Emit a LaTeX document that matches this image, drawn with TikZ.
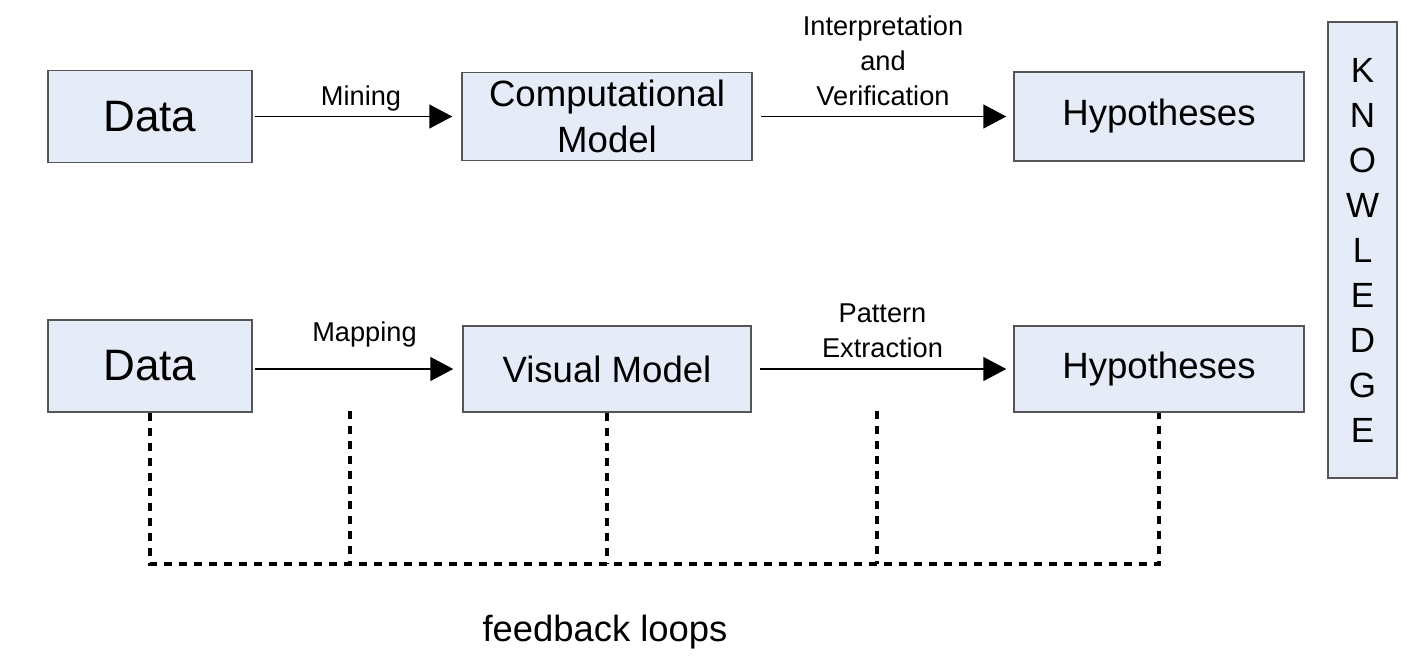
\documentclass[tikz,border=0pt]{standalone}
\usepackage{fontspec}
\setmainfont{Liberation Sans}
\usetikzlibrary{arrows.meta}
\tikzset{
    box/.style={draw=boxline, fill=boxfill, line width=0.75pt, inner sep=0pt, align=center},
    boxfont/.style={font=\fontsize{18.3}{23}\selectfont},
    flow/.style={line width=0.75pt, -{Triangle[length=11.5pt,width=12pt]}},
    flowlabel/.style={font=\fontsize{13.6}{17.5}\selectfont, align=center, inner sep=0pt,
        text depth=0pt, above=5.25pt},
    feedback/.style={line width=2.4pt, dash pattern=on 4pt off 3.5pt}
}

\begin{document}
\begin{tikzpicture}[x=0.5pt,y=-0.5pt]
  % Colors
    \definecolor{boxfill}{RGB}{230,236,247}
    \definecolor{boxline}{RGB}{85,85,85}

  % Frame
    \useasboundingbox (0,0) rectangle (1428,660);

  % The graphic
  % top row
    \node[box, minimum width=102pt, minimum height=46pt, font=\fontsize{22}{26}\selectfont]
      (data1) at (150,116.5) {Data};
    \node[box, boxfont, minimum width=145pt, minimum height=44pt]
      (comp) at (607,116.5) {Computational\\Model};
    \node[box, boxfont, minimum width=145pt, minimum height=44.5pt]
      (hyp1) at (1159,116.5) {Hypotheses};

  % bottom row
    \node[box, minimum width=102pt, minimum height=46pt, font=\fontsize{22}{26}\selectfont]
      (data2) at (150,366) {Data};
    \node[box, boxfont, minimum width=144pt, minimum height=43pt]
      (visual) at (607,369) {Visual Model};
    \node[box, boxfont, minimum width=145pt, minimum height=43pt]
      (hyp2) at (1159,369) {Hypotheses};

    \node[box, minimum width=34.5pt, minimum height=228pt, font=\fontsize{17.5}{22.5}\selectfont]
      (know) at (1362.5,250) {K\\N\\O\\W\\L\\E\\D\\G\\E};

  % arrows
    \draw[flow, shorten <=1pt, shorten >=4.5pt] (data1) --
      node[flowlabel, xshift=2pt] {Mining} (comp);
    \draw[flow, shorten <=4pt, shorten >=3.5pt] (comp) --
      node[flowlabel] {Interpretation\\and\\Verification} (hyp1);
    \draw[flow, shorten <=1pt, shorten >=4.5pt] (data2.east |- visual.west) --
      node[flowlabel, above=8pt, xshift=3.5pt] {Mapping} (visual.west);
    \draw[flow, shorten <=4pt, shorten >=3.5pt] (visual) --
      node[flowlabel] {Pattern\\Extraction} (hyp2);

  % feedback loops
    \coordinate (fb) at (0,564);
    \coordinate (fb1) at (350,411);
    \coordinate (fb2) at (877,411);
    \draw[feedback] (data2.south) -- (data2.south |- fb) -- (hyp2.south |- fb) -- (hyp2.south);
    \draw[feedback] (visual.south) -- (visual.south |- fb);
    \draw[feedback] (fb1) -- (fb1 |- fb);
    \draw[feedback] (fb2) -- (fb2 |- fb);

    \node[font=\fontsize{18.2}{22}\selectfont] (loops) at (605,632) {feedback loops};
\end{tikzpicture}
\end{document}
